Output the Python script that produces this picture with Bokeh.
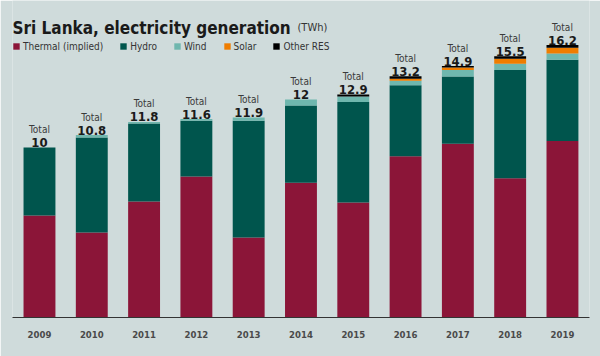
import numpy as np
from bokeh.plotting import figure
from bokeh.models import Range1d, FixedTicker, Label, ColumnDataSource
from bokeh.core.properties import value
from bokeh.embed import file_html
from bokeh.resources import INLINE

# ---- data (TWh) ----
years = [2009, 2010, 2011, 2012, 2013, 2014, 2015, 2016, 2017, 2018, 2019]
thermal = [6.04, 5.03, 6.86, 8.34, 4.73, 7.97, 6.80, 9.54, 10.28, 8.24, 10.44]
hydro = [4.02, 5.62, 4.62, 3.31, 6.92, 4.57, 5.95, 4.20, 3.98, 6.40, 4.81]
wind = [0.0, 0.15, 0.09, 0.09, 0.18, 0.36, 0.33, 0.27, 0.38, 0.37, 0.38]
solar = [0.0, 0.0, 0.0, 0.0, 0.0, 0.0, 0.0, 0.12, 0.15, 0.31, 0.34]
other_res = [0.0, 0.0, 0.0, 0.0, 0.0, 0.0, 0.12, 0.15, 0.09, 0.14, 0.15]
total_labels = ["10", "10.8", "11.8", "11.6", "11.9", "12", "12.9", "13.2", "14.9", "15.5", "16.2"]

series = ["thermal", "hydro", "wind", "solar", "other_res"]
legend_names = ["Thermal (implied)", "Hydro", "Wind", "Solar", "Other RES"]
colors = ["#8b1538", "#00554d", "#6fb7ae", "#ef7d00", "#000000"]

BG = "#cfdbdb"
FONT = "DejaVu Sans Condensed, Roboto"

src = ColumnDataSource(dict(year=years, thermal=thermal, hydro=hydro, wind=wind,
                            solar=solar, other_res=other_res))

p = figure(width=600, height=356, title=None,
           x_range=Range1d(2008.484, 2019.517), y_range=Range1d(0, 18.76),
           output_backend="svg", toolbar_location=None,
           min_border_left=12, min_border_right=11, min_border_top=0, min_border_bottom=39,
           background_fill_color=BG, border_fill_color=BG, outline_line_color=None)

p.vbar_stack(series, x="year", width=0.61, source=src, fill_color=colors,
             line_color=None, legend_label=legend_names)

# totals
tops = np.sum([thermal, hydro, wind, solar, other_res], axis=0)
p.text(x=years, y=list(tops), text=total_labels, y_offset=-5,
       text_align="center", text_baseline="alphabetic",
       text_font=value(FONT), text_font_style="bold", text_font_size="13px",
       text_color="#1a1a1a")
p.text(x=years, y=list(tops), text=["Total"] * len(years), y_offset=-18,
       text_align="center", text_baseline="alphabetic",
       text_font=value(FONT), text_font_size="10px", text_color="#3a3a3a")

# axes
p.yaxis.visible = False
p.grid.visible = False
ax = p.xaxis[0]
ax.ticker = FixedTicker(ticks=years)
ax.axis_line_color = "#333333"
ax.axis_line_width = 1
ax.major_tick_line_color = None
ax.minor_tick_line_color = None
ax.major_label_standoff = 7
ax.major_label_text_font = FONT
ax.major_label_text_font_size = "9.5px"
ax.major_label_text_font_style = "bold"
ax.major_label_text_color = "#4a4a4a"

# legend
lg = p.legend[0]
lg.orientation = "horizontal"
lg.location = (0, 265)
lg.glyph_width = 8
lg.glyph_height = 8
lg.label_standoff = 3
lg.spacing = 16
lg.padding = 0
lg.margin = 0
lg.label_height = 12
lg.border_line_color = None
lg.background_fill_alpha = 0
lg.label_text_font = FONT
lg.label_text_font_size = "10px"
lg.label_text_color = "#333333"

# title and source
p.add_layout(Label(x=0, y=290, x_units="screen", y_units="screen",
                   text="Sri Lanka, electricity generation", text_font=FONT,
                   text_font_style="bold", text_font_size="17px", text_color="#1a1a1a",
                   text_baseline="alphabetic"))
p.add_layout(Label(x=285, y=290, x_units="screen", y_units="screen",
                   text="(TWh)", text_font=FONT, text_font_size="11px",
                   text_color="#333333", text_baseline="alphabetic"))
p.add_layout(Label(x=577, y=-33, x_units="screen", y_units="screen",
                   text="Source: BP", text_font=FONT, text_font_size="9.5px",
                   text_color="#8a9494", text_align="right", text_baseline="alphabetic"))

open("out.html", "w").write(file_html(p, INLINE))
